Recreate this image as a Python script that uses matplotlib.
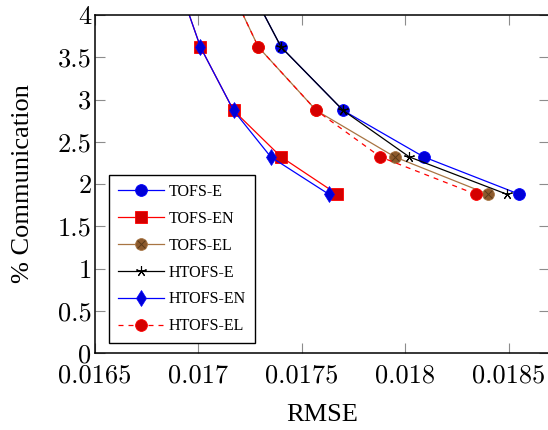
import matplotlib
matplotlib.use("Agg")
import matplotlib.pyplot as plt
from matplotlib.legend_handler import HandlerTuple

# Communication share (%) shared by every method
comm = [1.88, 2.32, 2.87, 3.62, 4.60]

# RMSE for each method at the matching communication level
tofs_e = [0.01855, 0.01809, 0.01770, 0.01740, 0.01719]
tofs_en = [0.01767, 0.01740, 0.01717, 0.01701, 0.01687]
tofs_el = [0.01840, 0.01795, 0.01757, 0.01729, 0.01710]
htofs_e = [0.01849, 0.01802, 0.01770, 0.01740, 0.01719]
htofs_en = [0.01763, 0.01735, 0.01717, 0.01701, 0.01687]
htofs_el = [0.01834, 0.01788, 0.01757, 0.01729, 0.01710]

labels = ["TOFS-E", "TOFS-EN", "TOFS-EL", "HTOFS-E", "HTOFS-EN", "HTOFS-EL"]

xticks = [0.0165, 0.017, 0.0175, 0.018, 0.0185]
xtick_labels = ["0.0165", "0.017", "0.0175", "0.018", "0.0185"]
yticks = [0, 0.5, 1, 1.5, 2, 2.5, 3, 3.5, 4]
ytick_labels = ["0", "0.5", "1", "1.5", "2", "2.5", "3", "3.5", "4"]

BLUE = "#0000ff"
BLUE_FILL = "#0000d8"
RED = "#ff0000"
RED_FILL = "#d40000"
BROWN = "#a87543"
BROWN_FILL = "#8c5a2d"

cm = "cmr10"
serif = "Liberation Serif"
fig = plt.figure(figsize=(5.48, 4.30), dpi=100)
ax = fig.add_axes([95 / 548, 77 / 430, 454 / 548, 338 / 430])

lw = 0.9
ms = 8.5

h1, = ax.plot(tofs_e, comm, color=BLUE, lw=lw, marker="o", ms=ms,
              mfc=BLUE_FILL, mec=BLUE, mew=0.6)
h2, = ax.plot(tofs_en, comm, color=RED, lw=lw, marker="s", ms=ms,
              mfc=RED_FILL, mec=RED, mew=0.6)
h3, = ax.plot(tofs_el, comm, color=BROWN, lw=lw, marker="o", ms=ms,
              mfc=BROWN_FILL, mec=BROWN, mew=0.6)
h3x, = ax.plot(tofs_el, comm, ls="none", marker="x", ms=ms * 0.62,
               mec="#5a3a1a", mew=0.7)
h4, = ax.plot(htofs_e, comm, color="black", lw=lw, marker=(5, 2, 0),
              ms=ms * 0.9, mec="black", mew=0.8)
h5, = ax.plot(htofs_en, comm, color=BLUE, lw=lw, marker="d", ms=ms * 0.95,
              mfc=BLUE_FILL, mec=BLUE, mew=0.5)
h6, = ax.plot(htofs_el, comm, color=RED, lw=lw, ls=(0, (4, 4)), marker="o",
              ms=ms, mfc=RED_FILL, mec=RED, mew=0.6)

ax.set_xlim(0.0165, 0.018695)
ax.set_ylim(0, 4)

ax.set_xticks(xticks)
ax.set_xticklabels(xtick_labels, fontfamily=cm, fontsize=19)
ax.set_yticks(yticks)
ax.set_yticklabels(ytick_labels, fontfamily=cm, fontsize=19)
ax.tick_params(direction="in", length=7.5, width=0.8, color="#8c8c8c",
               top=True, right=True)
ax.tick_params(axis="x", pad=7.5)
ax.tick_params(axis="y", pad=2.5)

for s in ax.spines.values():
    s.set_linewidth(1.1)

ax.set_xlabel("RMSE", fontfamily=serif, fontsize=19, labelpad=12)
ax.set_ylabel("% Communication", fontfamily=serif, fontsize=19, labelpad=17)

leg = ax.legend([h1, h2, (h3, h3x), h4, h5, h6], labels,
                handler_map={tuple: HandlerTuple()},
                loc="lower left", bbox_to_anchor=(6 / 454, 2 / 338),
                prop={"family": serif, "size": 11.5},
                numpoints=1, handlelength=2.9, handletextpad=0.3,
                labelspacing=0.68, borderpad=0.55, fancybox=False,
                framealpha=1, edgecolor="black")
leg.get_frame().set_linewidth(1.0)

fig.savefig("out.png", dpi=100)
